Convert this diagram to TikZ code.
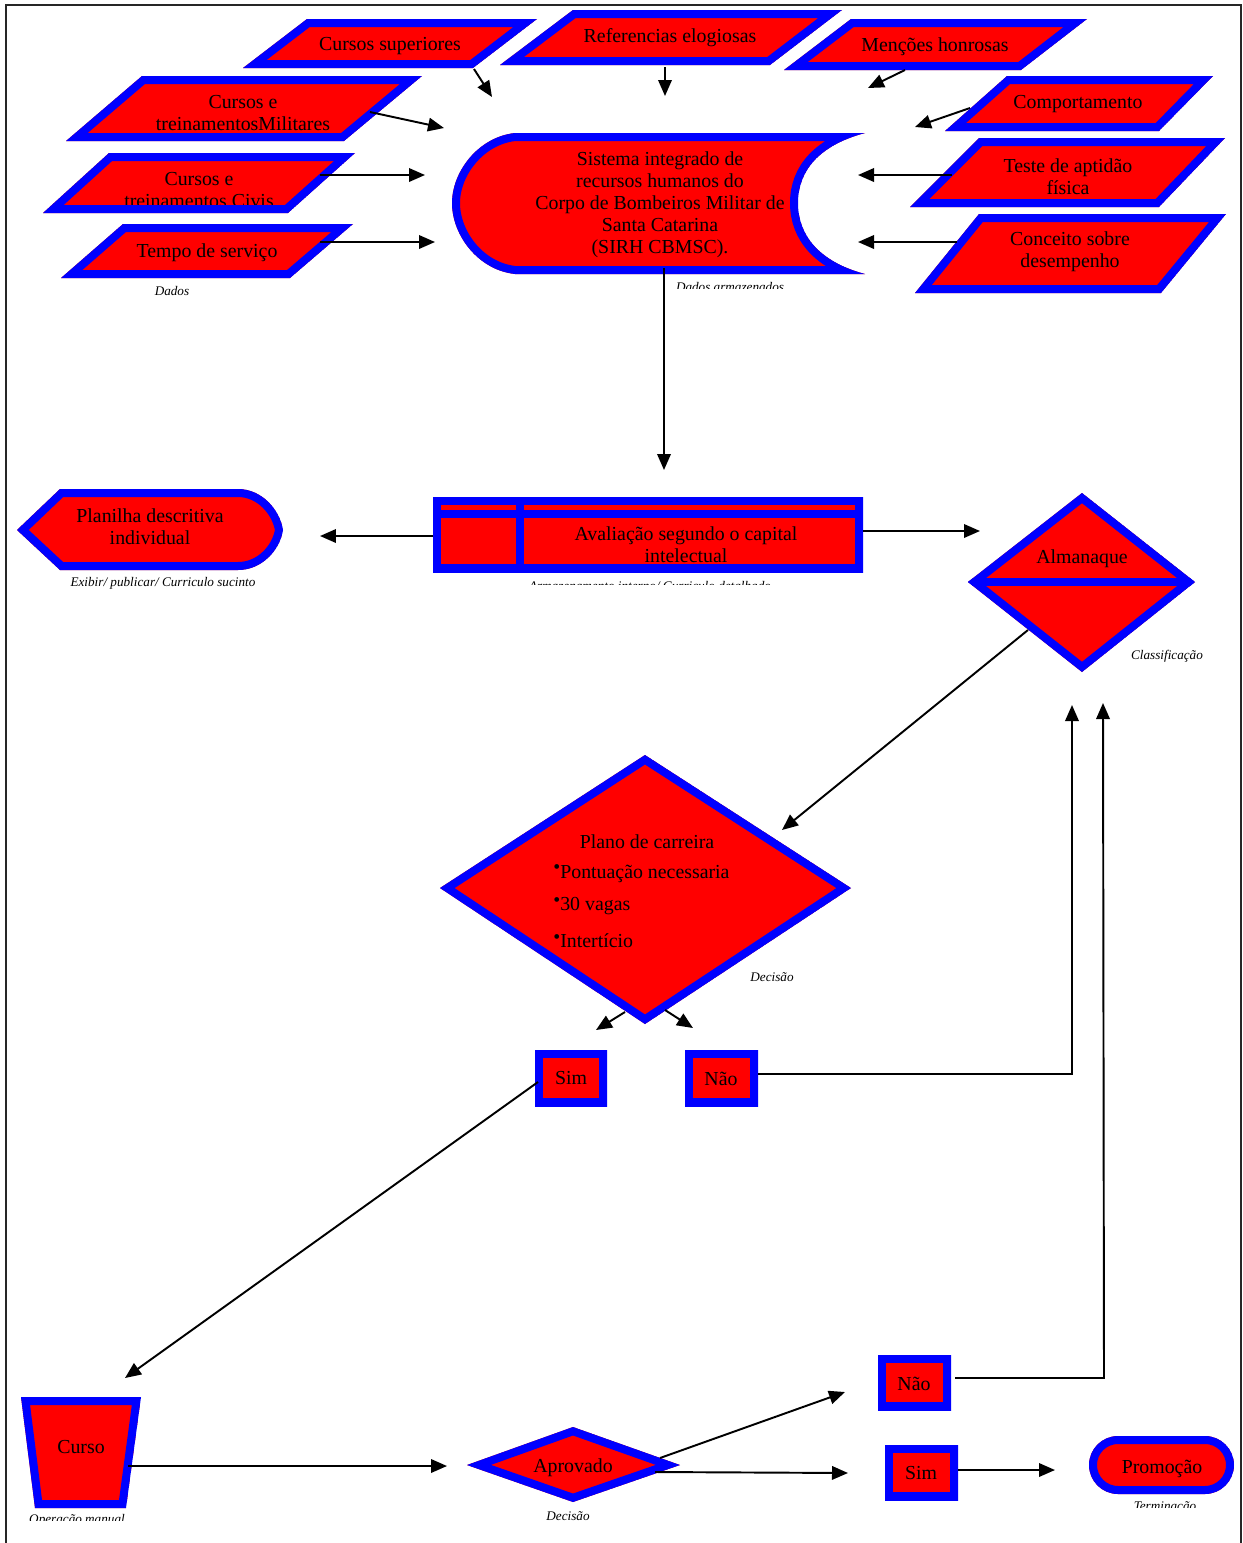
\documentclass[tikz,border=0pt]{standalone}
\usepackage{fontspec}
\setmainfont{Liberation Serif}
\usetikzlibrary{arrows.meta}
% red shape with a blue rim drawn inside its outline
\newcommand{\fcshape}[2]{%
  \begin{scope}
    \clip #1;
    \fill[red] #1;
    #2
    \draw[blue,line width=0.32cm] #1;
  \end{scope}}

\begin{document}
\begin{tikzpicture}[x=0.02cm,y=-0.02cm,
  txt/.style={align=center,font=\fontsize{11.3}{12.5}\selectfont,inner sep=0pt,yshift=-1.4pt},
  lbl/.style={font=\fontsize{7.5}{9}\selectfont\itshape,inner sep=0pt},
  arr/.style={line width=1.1pt,-{Triangle[length=0.32cm,width=0.27cm]}},
  bul/.style={txt,anchor=west}]
  \useasboundingbox (0,0) rectangle (1243,1543);
  \draw[line width=0.04cm,black!85] (6,1543) -- (6,5) -- (1241,5) -- (1241,1543);

  % dados de entrada
  \fcshape{(243,68) -- (473,68) -- (537,19) -- (307,19) -- cycle}{\node[txt] (cs) at (390,44) {Cursos superiores};}
  \fcshape{(500,65) -- (770,65) -- (842,10) -- (573,10) -- cycle}{\node[txt] (re) at (670,35) {Referencias elogiosas};}
  \fcshape{(784,70) -- (1021,70) -- (1087,19) -- (851,19) -- cycle}{\node[txt] (mh) at (935,44) {Menções honrosas};}
  \fcshape{(66,141) -- (344,141) -- (422,76) -- (142,76) -- cycle}{\node[txt] (ctm) at (243,111) {Cursos e\\treinamentosMilitares};}
  \fcshape{(43,213) -- (288,213) -- (355,153) -- (109,153) -- cycle}{\node[txt] (ctc) at (199,188) {Cursos e\\treinamentos Civis};}
  \fcshape{(61,278) -- (290,278) -- (353,224) -- (123,224) -- cycle}{\node[txt] (ts) at (207,250) {Tempo de serviço};}
  \node[lbl] (dados) at (172,291) {Dados};
  \fcshape{(945,131) -- (1159,131) -- (1213,76) -- (1007,76) -- cycle}{\node[txt] (co) at (1078,102) {Comportamento};}
  \fcshape{(910,207) -- (1159,207) -- (1225,138) -- (979,138) -- cycle}{\node[txt] (ta) at (1068,174) {Teste de aptidão\\física};}
  \fcshape{(915,293) -- (1161,293) -- (1226,214) -- (979,214) -- cycle}{\node[txt] (cd) at (1070,249) {Conceito sobre\\desempenho};}

  % sistema
  \fcshape{(515,133) -- (865,133) .. controls (820,145) and (798,170) .. (798,203)
    .. controls (798,236) and (820,262) .. (865,274) -- (515,274)
    .. controls (478,270) and (452,235) .. (452,203) .. controls (452,172) and (478,137) .. (515,133) -- cycle}
    {\node[txt] (sirh) at (660,202) {Sistema integrado de\\recursos humanos do\\Corpo de Bombeiros Militar de\\Santa Catarina\\(SIRH CBMSC).};}
  \begin{scope}
    \clip (0,0) rectangle (1243,288);
    \node[lbl] (arm) at (730,287) {Dados armazenados};
  \end{scope}

  % saidas
  \fcshape{(17,530) -- (60,489) -- (238,489) .. controls (262,489) and (280,510) .. (283,530)
    .. controls (280,550) and (262,570) .. (238,570) -- (60,570) -- cycle}
    {\node[txt] (pd) at (150,524) {Planilha descritiva\\individual};}
  \node[lbl] (exib) at (163,583) {Exibir/ publicar/ Curriculo sucinto};
  \fcshape{(433,497) rectangle (863,572)}
    {\node[txt] (av) at (686,542) {Avaliação segundo o capital\\intelectual};
     \draw[blue,line width=0.15cm] (433,514) -- (863,514) (520,497) -- (520,572);}
  \begin{scope}
    \clip (0,0) rectangle (1243,584);
    \node[lbl] (armi) at (650,586) {Armazenamento interno/ Curriculo detalhado};
  \end{scope}
  \fcshape{(1082,493) -- (1195,582) -- (1082,672) -- (968,582) -- cycle}
    {\node[txt] (al) at (1082,556) {Almanaque};
     \draw[blue,line width=0.16cm] (968,582) -- (1195,582);}
  \node[lbl] (clas) at (1167,656) {Classificação};

  % plano de carreira
  \fcshape{(645,755) -- (851,888) -- (645,1024) -- (440,888) -- cycle}
    {\node[txt] (pc) at (647,839) {Plano de carreira};
     \node[bul] (pc1) at (553,871) {\raisebox{0.45ex}{\textbullet}Pontuação necessaria};
     \node[bul] (pc2) at (553,904) {\raisebox{0.45ex}{\textbullet}30 vagas};
     \node[bul] (pc3) at (553,938) {\raisebox{0.45ex}{\textbullet}Intertício};}
  \node[lbl] (dec1) at (772,977) {Decisão};
  \fcshape{(535,1050) rectangle (607,1106)}{\node[txt] (sim1) at (571,1076) {Sim};}
  \fcshape{(685,1050) rectangle (758,1106)}{\node[txt] (nao1) at (721,1076) {Não};}

  % curso e promocao
  \fcshape{(21,1397) -- (141,1397) -- (126,1508) -- (35,1508) -- cycle}{\node[txt] (cu) at (81,1445) {Curso};}
  \begin{scope}
    \clip (0,0) rectangle (1243,1520);
    \node[lbl] (opm) at (77,1520) {Operação manual};
  \end{scope}
  \fcshape{(467,1465) -- (573,1427) -- (680,1465) -- (573,1502) -- cycle}{\node[txt] (ap) at (573,1465) {Aprovado};}
  \node[lbl] (dec2) at (568,1516) {Decisão};
  \fcshape{(878,1355) rectangle (951,1410)}{\node[txt] (nao2) at (914,1381) {Não};}
  \fcshape{(885,1445) rectangle (958,1500)}{\node[txt] (sim2) at (921,1471) {Sim};}
  \fcshape{[rounded corners=0.58cm] (1089,1436) rectangle (1234,1494)}{\node[txt] (pr) at (1162,1466) {Promoção};}
  \begin{scope}
    \clip (0,0) rectangle (1243,1507);
    \node[lbl] (term) at (1165,1507) {Terminação};
  \end{scope}

  % pontas dos conectores
  \coordinate (cs-o) at (474,69);   \coordinate (cs-i) at (492,97);
  \coordinate (re-o) at (665,67);   \coordinate (re-i) at (665,96);
  \coordinate (mh-o) at (905,70);   \coordinate (mh-i) at (868,88);
  \coordinate (ctm-o) at (370,112); \coordinate (ctm-i) at (444,128);
  \coordinate (ctc-o) at (320,175); \coordinate (ctc-i) at (425,175);
  \coordinate (ts-o) at (320,242);  \coordinate (ts-i) at (435,242);
  \coordinate (co-o) at (970,108);  \coordinate (co-i) at (915,127);
  \coordinate (ta-o) at (952,175);  \coordinate (ta-i) at (858,175);
  \coordinate (cd-o) at (957,242);  \coordinate (cd-i) at (858,242);
  \coordinate (sirh-o) at (664,268); \coordinate (av-i) at (664,470);
  \coordinate (av-l) at (433,536);  \coordinate (pd-i) at (320,536);
  \coordinate (av-r) at (863,531);  \coordinate (al-i) at (980,531);
  \coordinate (al-o) at (1028,630); \coordinate (pc-i) at (782,830);
  \coordinate (pc-l) at (625,1012); \coordinate (sim1-i) at (596,1030);
  \coordinate (pc-r) at (665,1010); \coordinate (nao1-i) at (693,1028);
  \coordinate (nao1-o) at (758,1074); \coordinate (nao1-c) at (1072,1074); \coordinate (al-i1) at (1072,705);
  \coordinate (sim1-o) at (538,1082); \coordinate (cu-i) at (125,1378);
  \coordinate (cu-o) at (128,1466); \coordinate (ap-i) at (447,1466);
  \coordinate (ap-u) at (660,1458); \coordinate (nao2-i) at (845,1392);
  \coordinate (ap-r) at (655,1472); \coordinate (sim2-i) at (848,1473);
  \coordinate (nao2-o) at (955,1378); \coordinate (nao2-c) at (1104,1378); \coordinate (al-i2) at (1103,703);
  \coordinate (sim2-o) at (958,1470); \coordinate (pr-i) at (1055,1470);

  \foreach \a/\b in {cs-o/cs-i,re-o/re-i,mh-o/mh-i,ctm-o/ctm-i,ctc-o/ctc-i,ts-o/ts-i,
      co-o/co-i,ta-o/ta-i,cd-o/cd-i,sirh-o/av-i,av-l/pd-i,av-r/al-i,al-o/pc-i,
      pc-l/sim1-i,pc-r/nao1-i,sim1-o/cu-i,cu-o/ap-i,ap-u/nao2-i,ap-r/sim2-i,sim2-o/pr-i}
    \draw[arr] (\a) -- (\b);
  \draw[arr] (nao1-o) -- (nao1-c) -- (al-i1);
  \draw[arr] (nao2-o) -- (nao2-c) -- (al-i2);
\end{tikzpicture}
\end{document}
